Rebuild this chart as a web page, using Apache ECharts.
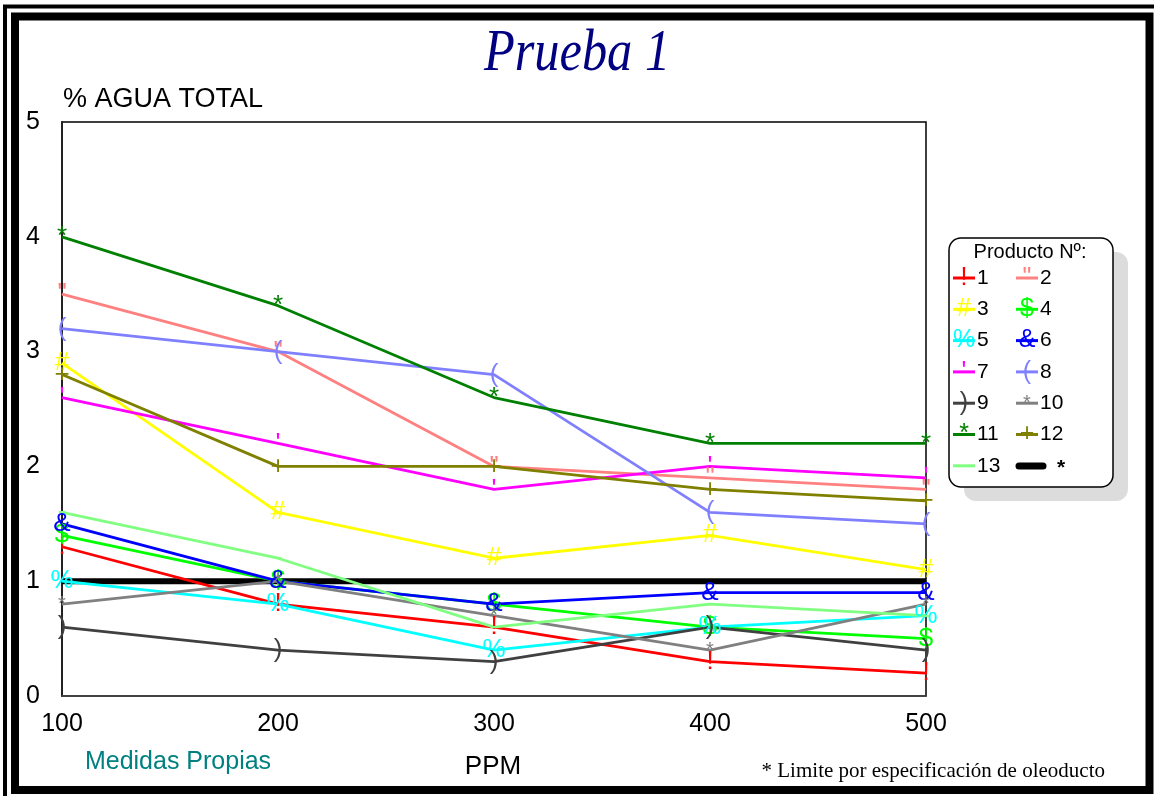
<!DOCTYPE html>
<html>
<head>
<meta charset="utf-8">
<script src="https://cdn.jsdelivr.net/npm/echarts@6/dist/echarts.min.js"></script>
<style>
  html, body { margin: 0; padding: 0; background: #fff; }
  #chart { width: 1154px; height: 796px; }
</style>
</head>
<body>
<div id="chart"></div>
<script>
// PPM en eje x
const ppm = ['100', '200', '300', '400', '500']
const yTicks = [0, 1, 2, 3, 4, 5]

// % agua total por producto
const p1 = [1.3, 0.8, 0.6, 0.3, 0.2]
const p2 = [3.5, 3.0, 2.0, 1.9, 1.8]
const p3 = [2.9, 1.6, 1.2, 1.4, 1.1]
const p4 = [1.4, 1.0, 0.8, 0.6, 0.5]
const p5 = [1.0, 0.8, 0.4, 0.6, 0.7]
const p6 = [1.5, 1.0, 0.8, 0.9, 0.9]
const p7 = [2.6, 2.2, 1.8, 2.0, 1.9]
const p8 = [3.2, 3.0, 2.8, 1.6, 1.5]
const p9 = [0.6, 0.4, 0.3, 0.6, 0.4]
const p10 = [0.8, 1.0, 0.7, 0.4, 0.8]
const p11 = [4.0, 3.4, 2.6, 2.2, 2.2]
const p12 = [2.8, 2.0, 2.0, 1.8, 1.7]
const p13 = [1.6, 1.2, 0.6, 0.8, 0.7]
const limite = [1, 1, 1, 1, 1]

const productos = ['1', '2', '3', '4', '5', '6', '7', '8', '9', '10', '11', '12', '13']
const valores = [p1, p2, p3, p4, p5, p6, p7, p8, p9, p10, p11, p12, p13]
const colores = ['#ff0000', '#ff8080', '#ffff00', '#00ff00', '#00ffff', '#0000ff', '#ff00ff',
  '#8080ff', '#404040', '#808080', '#008000', '#808000', '#80ff80']
const marcas = ['!', '"', '#', '$', '%', '&', "'", '(', ')', '*', '*', '+', '-']

const font = 'Liberation Sans, Arial, sans-serif'

var myChart = echarts.init(document.getElementById('chart'))

var series = [{
  name: '*',
  type: 'line',
  data: limite,
  symbol: 'none',
  lineStyle: { color: '#000', width: 6 },
  z: 1
}]
productos.forEach(function (nombre, i) {
  series.push({
    name: nombre,
    type: 'line',
    data: valores[i],
    symbol: 'circle',
    symbolSize: 1,
    itemStyle: { color: colores[i] },
    lineStyle: { color: colores[i], width: 2.8 },
    label: {
      show: true,
      position: 'inside',
      formatter: marcas[i],
      color: colores[i],
      fontFamily: font,
      fontSize: i === 9 ? 20 : 26
    },
    z: 2
  })
})

// leyenda dibujada a mano
var leyenda = [
  { type: 'rect', shape: { x: 964, y: 252, width: 164, height: 249, r: 12 }, style: { fill: '#dcdcdc' } },
  { type: 'rect', shape: { x: 949, y: 238, width: 164, height: 249, r: 12 }, style: { fill: '#fff', stroke: '#000', lineWidth: 1.5 } },
  { type: 'text', x: 1030, y: 252, style: { text: 'Producto Nº:', fill: '#000', font: '20px ' + font, align: 'center', verticalAlign: 'middle' } }
]
productos.forEach(function (nombre, i) {
  var x0 = 953 + (i % 2) * 63
  var y0 = 278 + Math.floor(i / 2) * 31.3
  leyenda.push(
    { type: 'line', shape: { x1: x0, y1: y0, x2: x0 + 22, y2: y0 }, style: { stroke: colores[i], lineWidth: 3 } },
    { type: 'text', x: x0 + 11, y: y0, style: { text: marcas[i], fill: colores[i], font: (i === 9 ? 20 : 25) + 'px ' + font, align: 'center', verticalAlign: 'middle' } },
    { type: 'text', x: x0 + 24, y: y0, style: { text: nombre, fill: '#000', font: '21px ' + font, align: 'left', verticalAlign: 'middle' } }
  )
})
leyenda.push(
  { type: 'line', shape: { x1: 1019, y1: 466, x2: 1043, y2: 466 }, style: { stroke: '#000', lineWidth: 7, lineCap: 'round' } },
  { type: 'text', x: 1061, y: 468, style: { text: '*', fill: '#000', font: 'bold 21px ' + font, align: 'center', verticalAlign: 'middle' } }
)

myChart.setOption({
  animation: false,
  backgroundColor: '#fff',
  grid: {
    left: 62,
    top: 122,
    right: 228,
    bottom: 100,
    show: true,
    borderColor: '#000',
    borderWidth: 1.5
  },
  xAxis: {
    type: 'category',
    data: ppm,
    boundaryGap: false,
    axisLine: { lineStyle: { color: '#444', width: 1.5 } },
    axisTick: { show: false },
    axisLabel: { color: '#000', fontSize: 25, fontFamily: font, margin: 16 },
    splitLine: { show: false }
  },
  yAxis: {
    type: 'value',
    min: yTicks[0],
    max: yTicks[yTicks.length - 1],
    interval: 1,
    axisLine: { show: true, lineStyle: { color: '#222', width: 2 } },
    axisTick: { show: false },
    axisLabel: { color: '#000', fontSize: 25, fontFamily: font, margin: 22 },
    splitLine: { show: false }
  },
  series: series,
  graphic: [
    { type: 'rect', shape: { x: 5, y: 6.5, width: 1170, height: 820 }, style: { fill: 'none', stroke: '#000', lineWidth: 4 }, z: 100 },
    { type: 'rect', shape: { x: 15, y: 16.5, width: 1134.5, height: 773.5 }, style: { fill: 'none', stroke: '#000', lineWidth: 8 }, z: 100 },
    { type: 'text', x: 577, y: 55, scaleX: 0.9, scaleY: 1.05, originX: 0, originY: 0, style: { text: 'Prueba 1', fill: '#000080', font: 'italic 56px Liberation Serif, Times New Roman, serif', align: 'center', verticalAlign: 'middle' } },
    { type: 'text', x: 63, y: 100, style: { text: '% AGUA TOTAL', fill: '#000', font: '27px ' + font, align: 'left', verticalAlign: 'middle' } },
    { type: 'text', x: 178, y: 762, style: { text: 'Medidas Propias', fill: '#008080', font: '25px ' + font, align: 'center', verticalAlign: 'middle' } },
    { type: 'text', x: 493, y: 767, style: { text: 'PPM', fill: '#000', font: '26px ' + font, align: 'center', verticalAlign: 'middle' } },
    { type: 'text', x: 1105, y: 771, style: { text: '* Limite por especificación de oleoducto', fill: '#000', font: '21px Liberation Serif, Times New Roman, serif', align: 'right', verticalAlign: 'middle' } }
  ].concat(leyenda)
})
</script>
</body>
</html>
